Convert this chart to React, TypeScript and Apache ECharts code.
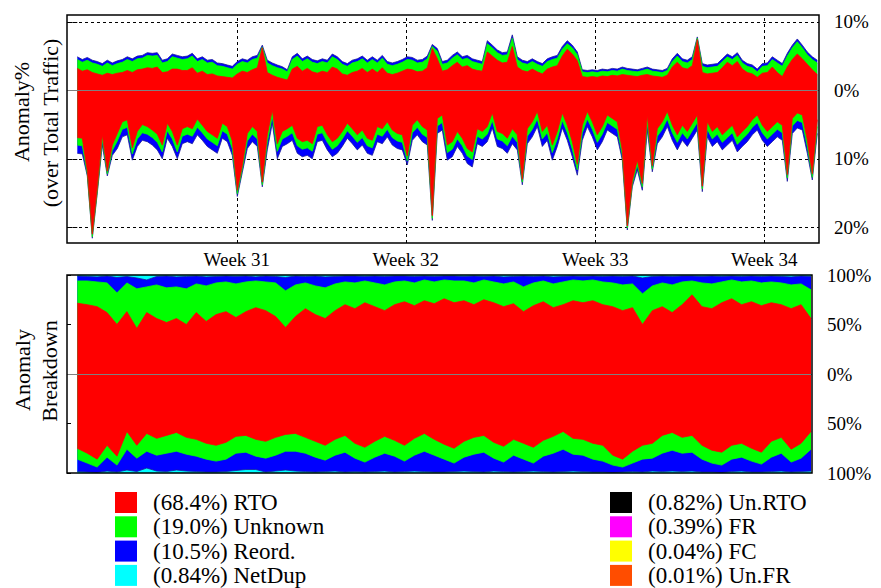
import { useEffect, useRef } from 'react';
import * as echarts from 'echarts';

// ---- Labels ----
const weekLabels = ['Week 31', 'Week 32', 'Week 33', 'Week 34'];
const weekPositions = [31.9, 65.7, 103.6, 137.4]; // in sample-index units
const topTickValues = [-20, -10, 0, 10];
const topGridValues = [10, -10, -20];
const legendNames = ['RTO', 'Unknown', 'Reord.', 'NetDup', 'Un.RTO', 'FR', 'FC', 'Un.FR'];
const legendShares = ['68.4', '19.0', '10.5', '0.84', '0.82', '0.39', '0.04', '0.01'];
const legendColors = ['#ff0000', '#00ff00', '#0000ff', '#00ffff', '#000000', '#ff00ff', '#ffff00', '#ff4d00'];

// ---- Top panel: anomaly % of total traffic (cumulative levels), up direction ----
const rtoUp = [
  3.2, 2.8, 3.0, 2.6, 2.4, 2.2, 2.5, 2.3, 2.5, 2.6,
  2.9, 2.6, 3.0, 3.1, 3.3, 3.2, 3.4, 2.6, 2.7, 3.1,
  3.1, 2.9, 2.9, 3.3, 2.5, 2.8, 2.3, 2.4, 2.1, 2.0,
  1.9, 1.8, 2.4, 2.8, 2.6, 3.0, 3.3, 6.2, 2.6, 2.2,
  1.9, 1.7, 1.5, 3.1, 3.5, 2.8, 3.2, 2.7, 2.5, 2.8,
  2.6, 3.4, 3.1, 2.4, 2.2, 2.6, 2.8, 3.2, 2.6, 3.1,
  2.6, 3.3, 2.5, 2.3, 2.5, 2.8, 3.1, 3.0, 2.7, 2.8,
  3.3, 6.1, 4.6, 2.8, 3.0, 3.6, 4.1, 3.4, 3.6, 3.1,
  2.9, 2.8, 5.6, 5.0, 4.4, 4.0, 4.1, 6.4, 3.4, 2.9,
  2.7, 3.1, 2.7, 2.4, 3.1, 3.4, 3.6, 5.0, 6.0, 5.3,
  4.3, 2.0, 1.9, 2.0, 1.9, 2.1, 2.0, 2.2, 2.1, 2.3,
  2.2, 2.1, 2.0, 2.2, 2.3, 2.1, 2.0, 1.9, 2.2, 3.4,
  4.1, 3.3, 3.1, 3.6, 7.4, 2.6, 2.4, 2.5, 2.6, 3.3,
  4.1, 3.6, 4.2, 3.1, 2.6, 2.4, 1.9, 2.5, 2.6, 3.4,
  2.6, 2.0, 3.4, 4.5, 5.3, 4.6, 3.8, 3.0, 2.3,
];
const unknownUp = [
  4.5, 4.1, 4.4, 4.0, 3.8, 3.5, 4.0, 3.6, 3.9, 4.1,
  4.5, 4.2, 4.6, 4.7, 5.1, 5.0, 5.1, 4.0, 4.2, 4.9,
  4.7, 4.5, 4.6, 5.0, 4.2, 4.5, 4.0, 4.1, 3.6, 3.5,
  3.3, 3.1, 3.8, 4.2, 4.0, 4.5, 4.7, 6.3, 4.0, 3.6,
  3.3, 3.1, 2.7, 4.5, 5.0, 4.2, 4.6, 4.1, 3.9, 4.2,
  4.0, 4.9, 4.5, 3.8, 3.5, 4.0, 4.2, 4.6, 4.0, 4.5,
  4.0, 4.7, 3.8, 3.6, 3.8, 4.1, 4.5, 4.4, 4.0, 4.1,
  4.6, 6.4, 5.7, 3.8, 4.0, 4.7, 5.2, 4.5, 4.7, 4.2,
  4.0, 3.8, 6.8, 6.2, 5.5, 5.1, 5.2, 7.6, 4.5, 4.0,
  3.8, 4.2, 3.8, 3.5, 4.2, 4.5, 4.7, 6.0, 6.8, 6.2,
  5.2, 2.7, 2.6, 2.7, 2.6, 2.8, 2.7, 2.9, 2.8, 3.1,
  2.9, 2.8, 2.7, 2.9, 3.1, 2.8, 2.7, 2.6, 2.9, 4.2,
  5.0, 4.2, 4.0, 4.5, 7.6, 3.5, 3.3, 3.4, 3.5, 4.2,
  4.9, 4.5, 5.1, 4.0, 3.5, 3.3, 2.7, 3.5, 3.6, 4.5,
  4.0, 3.5, 5.0, 6.2, 7.1, 6.2, 5.2, 4.5, 4.0,
];
const reordUp = [
  4.9, 4.5, 4.8, 4.4, 4.2, 3.9, 4.4, 4.0, 4.3, 4.5,
  4.9, 4.6, 5.0, 5.1, 5.5, 5.4, 5.5, 4.4, 4.6, 5.3,
  5.1, 4.9, 5.0, 5.4, 4.6, 4.9, 4.4, 4.5, 4.0, 3.9,
  3.7, 3.5, 4.2, 4.6, 4.4, 4.9, 5.1, 6.6, 4.4, 4.0,
  3.7, 3.45, 3.0, 4.9, 5.4, 4.6, 5.0, 4.5, 4.3, 4.6,
  4.4, 5.3, 4.9, 4.2, 3.9, 4.4, 4.6, 5.0, 4.4, 4.9,
  4.4, 5.1, 4.2, 4.0, 4.2, 4.5, 4.9, 4.8, 4.4, 4.5,
  5.0, 6.7, 6.1, 4.2, 4.4, 5.1, 5.6, 4.9, 5.1, 4.6,
  4.4, 4.2, 7.25, 6.6, 5.9, 5.5, 5.6, 8.1, 4.9, 4.4,
  4.2, 4.6, 4.2, 3.9, 4.6, 4.9, 5.1, 6.4, 7.25, 6.6,
  5.6, 3.0, 2.9, 3.0, 2.9, 3.1, 3.0, 3.2, 3.1, 3.4,
  3.2, 3.1, 3.0, 3.2, 3.4, 3.1, 3.0, 2.9, 3.2, 4.6,
  5.4, 4.6, 4.4, 4.9, 7.8, 3.9, 3.7, 3.8, 3.9, 4.6,
  5.3, 4.9, 5.5, 4.4, 3.9, 3.7, 3.1, 3.9, 4.0, 4.9,
  4.4, 3.9, 5.4, 6.6, 7.5, 6.6, 5.6, 4.9, 4.4,
];

// ---- Top panel, down direction (magnitudes, cumulative levels) ----
const rtoDown = [
  6.9, 7.0, 11.8, 21.0, 14.3, 6.5, 11.8, 8.0, 6.3, 4.6,
  4.3, 8.4, 6.0, 5.0, 5.3, 5.8, 6.4, 8.0, 4.8, 6.0,
  8.0, 5.6, 5.3, 5.6, 4.2, 5.1, 6.0, 6.5, 7.0, 4.8,
  5.3, 7.4, 14.6, 11.0, 6.3, 5.3, 6.0, 13.4, 6.5, 2.9,
  7.8, 6.0, 5.6, 5.1, 7.0, 7.5, 7.3, 7.8, 5.3, 5.1,
  6.5, 7.5, 7.0, 6.0, 4.8, 5.6, 6.5, 5.8, 7.0, 7.3,
  5.3, 5.6, 4.6, 5.8, 6.3, 6.5, 9.6, 5.1, 4.3, 5.3,
  5.8, 18.3, 4.1, 3.6, 8.0, 7.5, 6.0, 7.0, 8.5, 9.0,
  5.6, 6.0, 5.3, 3.3, 6.0, 6.3, 7.0, 5.6, 6.5, 13.0,
  5.6, 4.6, 3.1, 6.0, 5.1, 8.0, 6.0, 3.3, 5.1, 7.5,
  10.8, 5.1, 3.1, 4.6, 6.5, 5.3, 3.6, 4.1, 4.6, 8.8,
  19.8, 13.2, 10.2, 13.6, 3.6, 11.0, 5.6, 4.6, 3.1, 5.1,
  6.5, 5.1, 6.0, 4.8, 3.6, 14.0, 4.6, 6.0, 5.3, 6.5,
  5.8, 5.1, 6.8, 6.0, 5.3, 4.3, 3.6, 5.1, 6.0, 5.3,
  4.6, 5.1, 12.3, 4.1, 3.3, 3.6, 7.3, 12.2, 4.3,
];
const unknownDown = [
  8.0, 8.1, 12.2, 21.4, 14.7, 7.2, 12.2, 8.8, 7.4, 5.7,
  5.4, 9.3, 7.1, 6.2, 6.4, 6.9, 7.6, 9.0, 5.9, 7.1,
  9.0, 6.7, 6.4, 6.7, 5.4, 6.2, 7.1, 7.6, 8.1, 5.9,
  6.4, 8.5, 15.1, 11.5, 7.4, 6.4, 7.1, 13.8, 7.6, 3.8,
  8.9, 7.1, 6.7, 6.2, 8.1, 8.6, 8.4, 8.9, 6.4, 6.2,
  7.6, 8.6, 8.1, 7.1, 5.9, 6.7, 7.6, 6.9, 8.1, 8.4,
  6.4, 6.7, 5.7, 6.9, 7.4, 7.6, 10.3, 6.2, 5.4, 6.4,
  6.9, 18.7, 5.2, 4.7, 9.1, 8.6, 7.1, 8.1, 9.6, 10.1,
  6.7, 7.1, 6.4, 4.4, 7.1, 7.4, 8.1, 6.7, 7.6, 13.4,
  6.7, 5.7, 4.2, 7.1, 6.2, 9.1, 7.1, 4.4, 6.2, 8.6,
  11.6, 6.2, 4.2, 5.7, 7.6, 6.4, 4.7, 5.2, 5.7, 9.5,
  20.1, 13.7, 10.9, 14.1, 4.7, 11.5, 6.7, 5.7, 4.2, 6.2,
  7.6, 6.2, 7.1, 5.9, 4.7, 14.4, 5.7, 7.1, 6.4, 7.6,
  6.9, 6.2, 7.9, 7.1, 6.4, 5.4, 4.7, 6.2, 7.1, 6.4,
  5.7, 6.2, 12.8, 5.2, 4.4, 4.7, 8.2, 12.7, 5.3,
];
const reordDown = [
  9.2, 9.3, 12.5, 21.6, 15.0, 8.0, 12.5, 9.5, 8.5, 6.8,
  6.5, 10.2, 8.2, 7.3, 7.5, 8.0, 8.7, 10.0, 7.0, 8.2,
  10.0, 7.8, 7.5, 7.8, 6.5, 7.3, 8.2, 8.7, 9.2, 7.0,
  7.5, 9.5, 15.5, 12.0, 8.5, 7.5, 8.2, 14.1, 8.7, 4.8,
  10.0, 8.2, 7.8, 7.3, 9.2, 9.7, 9.5, 10.0, 7.5, 7.3,
  8.7, 9.7, 9.2, 8.2, 7.0, 7.8, 8.7, 8.0, 9.2, 9.5,
  7.5, 7.8, 6.8, 8.0, 8.5, 8.7, 10.9, 7.3, 6.5, 7.5,
  8.0, 19.0, 6.3, 5.8, 10.2, 9.7, 8.2, 9.2, 10.7, 11.2,
  7.8, 8.2, 7.5, 5.5, 8.2, 8.5, 9.2, 7.8, 8.7, 13.8,
  7.8, 6.8, 5.3, 8.2, 7.3, 10.2, 8.2, 5.5, 7.3, 9.7,
  12.4, 7.3, 5.3, 6.8, 8.7, 7.5, 5.8, 6.3, 6.8, 10.2,
  20.4, 14.1, 11.6, 14.6, 5.8, 11.9, 7.8, 6.8, 5.3, 7.3,
  8.7, 7.3, 8.2, 7.0, 5.8, 14.8, 6.8, 8.2, 7.5, 8.7,
  8.0, 7.3, 9.0, 8.2, 7.5, 6.5, 5.8, 7.3, 8.2, 7.5,
  6.8, 7.3, 13.3, 6.3, 5.5, 5.8, 9.2, 13.1, 6.3,
];

// ---- Bottom panel: breakdown shares (cumulative %), up direction ----
const rtoShareUp = [
  71.5, 70, 68, 62, 50, 63, 46, 62, 56, 52,
  56, 50, 62, 53, 60, 63, 57, 63, 67, 64,
  58, 47, 58, 66, 60, 56, 64, 70, 66, 72,
  68, 64, 70, 73, 69, 74, 71, 76, 72, 74,
  70, 75, 72, 68, 71, 63, 69, 73, 67, 70,
  74, 72, 74, 70, 68, 64, 67, 50, 64, 68,
  62, 70, 80, 68, 66, 72, 76, 70, 73, 69,
  72, 70, 66, 70, 56,
];
const unknownShareUp = [
  94, 94, 93, 92, 82, 92, 86, 88, 90, 87,
  88, 86, 91, 89, 92, 93, 91, 93, 94, 93,
  92, 84, 90, 92, 89, 87, 91, 93, 92, 94,
  92, 90, 93, 94, 92, 95, 93, 95, 94, 94,
  92, 95, 93, 91, 93, 88, 92, 94, 91, 93,
  95, 94, 95, 93, 92, 90, 91, 81, 89, 92,
  90, 93, 94, 92, 91, 93, 95, 93, 94, 92,
  93, 92, 90, 91, 85,
];
const reordShareUp = [
  99, 98.5, 98, 99, 97.5, 98.5, 97, 95, 98.5, 99,
  98, 98.5, 99, 98, 98.5, 99, 98.5, 99, 98, 99,
  98.5, 97.5, 99, 98.5, 99, 98, 98.5, 99, 99, 98.5,
  99, 98.5, 99, 99, 98.5, 99, 98.5, 99, 99, 98.5,
  99, 98.5, 99, 98, 98.5, 99, 98.5, 99, 98, 98.5,
  99, 98.5, 99, 98.5, 99, 98.5, 99, 97, 98.5, 99,
  98.5, 99, 99, 98.5, 99, 98.5, 99, 98.5, 99, 98.5,
  99, 98.5, 98, 99, 98.5,
];
const totalShareUp = [
  100, 100, 100, 100, 100, 100, 100, 100, 100, 100,
  100, 100, 100, 100, 100, 100, 100, 100, 100, 100,
  100, 100, 100, 100, 100, 100, 100, 100, 100, 100,
  100, 100, 100, 100, 100, 100, 100, 100, 100, 100,
  100, 100, 100, 100, 100, 100, 100, 100, 100, 100,
  100, 100, 100, 100, 100, 100, 100, 100, 100, 100,
  100, 100, 100, 100, 100, 100, 100, 100, 100, 100,
  100, 100, 100, 100, 100,
];

// ---- Bottom panel, down direction ----
const rtoShareDown = [
  75, 80, 86, 72, 83, 58, 72, 60, 65, 62,
  59, 64, 66, 70, 72, 69, 63, 62, 66, 68,
  64, 61, 60, 64, 68, 72, 66, 62, 70, 74,
  68, 63, 67, 72, 65, 60, 66, 71, 75, 68,
  64, 62, 69, 73, 66, 70, 74, 67, 63, 58,
  65, 66, 70, 72, 82, 86, 78, 72, 70, 62,
  59, 64, 62, 72, 77, 79, 72, 70, 75, 79,
  68, 64, 76, 70, 58,
];
const unknownShareDown = [
  86, 90, 94, 84, 92, 76, 85, 78, 82, 80,
  78, 81, 83, 86, 88, 86, 80, 79, 83, 85,
  82, 78, 78, 80, 84, 87, 82, 79, 85, 89,
  84, 80, 83, 88, 82, 78, 82, 86, 90, 84,
  81, 79, 85, 89, 82, 86, 90, 83, 80, 76,
  81, 82, 86, 88, 92, 94, 90, 86, 85, 80,
  77, 80, 79, 86, 90, 92, 86, 84, 88, 91,
  84, 80, 89, 85, 76,
];
const reordShareDown = [
  98.5, 99, 99.5, 98, 99, 97, 98.5, 95, 98, 98.5,
  97, 98, 98.5, 99, 99, 98.5, 97.5, 96.5, 96.5, 99,
  98, 97, 98, 98.5, 99, 98.5, 98, 99, 98.5, 99,
  98.5, 98, 99, 98.5, 98, 98.5, 99, 99, 98.5, 98,
  98.5, 99, 98, 98.5, 99, 98.5, 98, 98.5, 99, 98.5,
  98, 98.5, 99, 99, 99.5, 99, 98.5, 99, 98, 98.5,
  98, 98.5, 98, 99, 99, 99.5, 98.5, 98, 99, 99,
  98.5, 98, 99, 98.5, 98,
];
const totalShareDown = [
  100, 100, 100, 100, 100, 100, 100, 100, 100, 100,
  100, 100, 100, 100, 100, 100, 100, 100, 100, 100,
  100, 100, 100, 100, 100, 100, 100, 100, 100, 100,
  100, 100, 100, 100, 100, 100, 100, 100, 100, 100,
  100, 100, 100, 100, 100, 100, 100, 100, 100, 100,
  100, 100, 100, 100, 100, 100, 100, 100, 100, 100,
  100, 100, 100, 100, 100, 100, 100, 100, 100, 100,
  100, 100, 100, 100, 100,
];

const FONT = 'Liberation Serif';
const colorOf = (name: string) => legendColors[legendNames.indexOf(name)];
const lineColorOf = (name: string) => (name === 'Reord.' ? '#1a1a9a' : colorOf(name));

function area(name: string, values: number[], xi: number, yi: number, sign: number, extra: any = {}) {
  const c = colorOf(name);
  return {
    type: 'line',
    name,
    xAxisIndex: xi,
    yAxisIndex: yi,
    data: values.map((v, i) => [i, sign * v]),
    showSymbol: false,
    symbol: 'none',
    itemStyle: { color: c },
    lineStyle: { color: lineColorOf(name), width: 0.8 },
    areaStyle: { color: c, opacity: 1 },
    emphasis: { disabled: true },
    silent: true,
    animation: false,
    ...extra,
  };
}

const absPct = (v: number) => `${Math.abs(v)}%`;

export default function App() {
  const ref = useRef<HTMLDivElement>(null);
  useEffect(() => {
    const chart = echarts.init(ref.current!, null, { renderer: 'svg' });
    const gridMarkLine = {
      z: 1,
      silent: true,
      symbol: ['none', 'none'],
      label: { show: false },
      lineStyle: { type: [3, 3], color: '#000', width: 1 },
      data: [
        ...weekPositions.map((p) => ({ xAxis: p })),
        ...topGridValues.map((v) => ({ yAxis: v })),
      ],
    };
    const zeroMarkLine = {
      silent: true,
      symbol: ['none', 'none'],
      label: { show: false },
      lineStyle: { type: 'solid', color: '#808080', width: 1.2 },
      data: [{ yAxis: 0 }],
    };
    const legendFormatter = (name: string) => `(${legendShares[legendNames.indexOf(name)]}%) ${name}`;
    const legendText = { fontFamily: FONT, fontSize: 23, color: '#000', padding: [0, 0, 0, 11] };
    const axisFont = { fontFamily: FONT, fontSize: 19, color: '#000' };
    const nameStyle = (text: string) => ({
      text, fontSize: 22, fontFamily: FONT, fill: '#000',
      align: 'center', verticalAlign: 'middle', textAlign: 'center', textVerticalAlign: 'middle',
    });

    const option: any = {
      animation: false,
      backgroundColor: '#fff',
      textStyle: { fontFamily: FONT },
      grid: [
        { left: 67, top: 15, width: 752, height: 228, show: true, borderColor: '#000', borderWidth: 1.5, backgroundColor: 'transparent', z: 10 },
        { left: 67, top: 275, width: 745, height: 198, show: true, borderColor: '#000', borderWidth: 1.5, backgroundColor: 'transparent', z: 10 },
      ],
      xAxis: [
        {
          gridIndex: 0, type: 'value', min: -2.06, max: 148.34,
          axisLine: { show: false }, splitLine: { show: false },
          axisTick: { show: true, inside: true, length: 5, customValues: weekPositions, lineStyle: { color: '#000' } },
          axisLabel: {
            customValues: weekPositions, margin: 7, ...axisFont,
            formatter: (v: number) => {
              const k = weekPositions.findIndex((p) => Math.abs(p - v) < 0.01);
              return k >= 0 ? weekLabels[k] : '';
            },
          },
        },
        { gridIndex: 1, type: 'value', min: -1.04, max: 74.1, show: false },
      ],
      yAxis: [
        {
          gridIndex: 0, type: 'value', position: 'right', min: -22.3, max: 11, splitNumber: 3,
          axisLine: { show: false }, splitLine: { show: false },
          axisTick: { show: true, inside: true, length: 5, customValues: topTickValues, lineStyle: { color: '#000' } },
          axisLabel: { customValues: topTickValues, formatter: absPct, margin: 15, ...axisFont },
        },
        {
          gridIndex: 1, type: 'value', position: 'right', min: -100, max: 100, interval: 50,
          axisLine: { show: false }, splitLine: { show: false }, axisTick: { show: false },
          axisLabel: { formatter: absPct, margin: 15, ...axisFont },
        },
        {
          gridIndex: 1, type: 'value', position: 'left', min: -100, max: 100, interval: 50,
          axisLine: { show: false }, splitLine: { show: false }, axisLabel: { show: false },
          axisTick: { show: true, inside: true, length: 4, lineStyle: { color: '#000' } },
        },
        {
          gridIndex: 0, type: 'value', position: 'left', min: -22.3, max: 11, splitNumber: 3,
          axisLine: { show: false }, splitLine: { show: false }, axisLabel: { show: false },
          axisTick: { show: true, inside: true, length: 5, customValues: topTickValues, lineStyle: { color: '#000' } },
        },
      ],
      legend: [
        {
          left: 115, top: 491, height: 97, orient: 'vertical', padding: 0, itemWidth: 22, itemHeight: 21, itemGap: 1.3,
          icon: 'rect', selectedMode: false, data: legendNames.slice(0, 4), formatter: legendFormatter,
          textStyle: legendText, itemStyle: { borderWidth: 0 },
        },
        {
          left: 610, top: 491, height: 97, orient: 'vertical', padding: 0, itemWidth: 22, itemHeight: 21, itemGap: 1.3,
          icon: 'rect', selectedMode: false, data: legendNames.slice(4), formatter: legendFormatter,
          textStyle: legendText, itemStyle: { borderWidth: 0 },
        },
      ],
      graphic: [
        { type: 'text', x: 21, y: 112, rotation: Math.PI / 2, z: 100, style: nameStyle('Anomaly%') },
        { type: 'text', x: 50, y: 123, rotation: Math.PI / 2, z: 100, style: nameStyle('(over Total Traffic)') },
        { type: 'text', x: 22, y: 370, rotation: Math.PI / 2, z: 100, style: nameStyle('Anomaly') },
        { type: 'text', x: 49, y: 371, rotation: Math.PI / 2, z: 100, style: nameStyle('Breakdown') },
      ],
      series: [
        area('Reord.', reordUp, 0, 0, 1, { markLine: gridMarkLine }),
        area('Unknown', unknownUp, 0, 0, 1),
        area('RTO', rtoUp, 0, 0, 1),
        area('Reord.', reordDown, 0, 0, -1),
        area('Unknown', unknownDown, 0, 0, -1),
        area('RTO', rtoDown, 0, 0, -1, { markLine: zeroMarkLine }),
        area('NetDup', totalShareUp, 1, 1, 1),
        area('Reord.', reordShareUp, 1, 1, 1),
        area('Unknown', unknownShareUp, 1, 1, 1),
        area('RTO', rtoShareUp, 1, 1, 1),
        area('NetDup', totalShareDown, 1, 1, -1),
        area('Reord.', reordShareDown, 1, 1, -1),
        area('Unknown', unknownShareDown, 1, 1, -1),
        area('RTO', rtoShareDown, 1, 1, -1, { markLine: zeroMarkLine }),
        area('Un.RTO', [], 0, 0, 1),
        area('FR', [], 0, 0, 1),
        area('FC', [], 0, 0, 1),
        area('Un.FR', [], 0, 0, 1),
      ],
    };
    chart.setOption(option);
    return () => chart.dispose();
  }, []);
  return (
    <div
      ref={ref}
      style={{ position: 'fixed', left: 0, top: 0, width: 881, height: 588, background: '#fff' }}
    />
  );
}
